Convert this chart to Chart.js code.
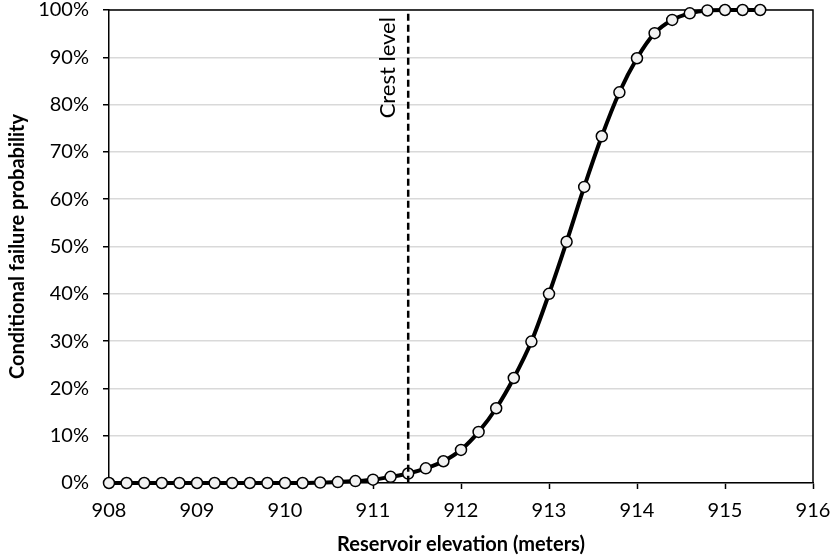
<!DOCTYPE html>
<html>
<head>
<meta charset="utf-8">
<script src="https://cdn.jsdelivr.net/npm/chart.js@4.4.1/dist/chart.umd.min.js"></script>
<style>
  html, body { margin: 0; padding: 0; background: #fff; }
  #wrap { width: 833px; height: 560px; }
</style>
</head>
<body>
<div id="wrap"><canvas id="c" width="833" height="560"></canvas></div>
<script>
// reservoir elevation (m) and conditional failure probability (%)
var elevations = [908.0, 908.2, 908.4, 908.6, 908.8, 909.0, 909.2, 909.4, 909.6, 909.8,
                  910.0, 910.2, 910.4, 910.6, 910.8, 911.0, 911.2, 911.4, 911.6, 911.8,
                  912.0, 912.2, 912.4, 912.6, 912.8, 913.0, 913.2, 913.4, 913.6, 913.8,
                  914.0, 914.2, 914.4, 914.6, 914.8, 915.0, 915.2, 915.4];
var probabilities = [0, 0, 0, 0, 0, 0, 0, 0, 0, 0,
                     0, 0, 0.1, 0.2, 0.4, 0.7, 1.3, 2.0, 3.1, 4.6,
                     7.0, 10.8, 15.8, 22.2, 29.9, 40.0, 51.0, 62.6, 73.3, 82.6,
                     89.8, 95.1, 97.9, 99.3, 99.9, 100, 100, 100];
var crestLevel = 911.4;
var crestLabel = 'Crest level';

var FONT = 'Lato, "Open Sans", sans-serif';

var points = elevations.map(function(x, i) { return { x: x, y: probabilities[i] }; });

// frame on top/right of plot area
var framePlugin = {
    id: 'frame',
    beforeDatasetsDraw: function(chart) {
        var a = chart.chartArea, ctx = chart.ctx;
        ctx.save();
        ctx.strokeStyle = '#000';
        ctx.lineWidth = 1.5;
        ctx.beginPath();
        ctx.moveTo(a.left, a.top);
        ctx.lineTo(a.right, a.top);
        ctx.lineTo(a.right, a.bottom);
        ctx.stroke();
        ctx.restore();
    }
};

// dashed crest line with rotated label
var crestPlugin = {
    id: 'crest',
    afterDatasetsDraw: function(chart) {
        var ctx = chart.ctx;
        var xs = chart.scales.x, ys = chart.scales.y;
        var px = xs.getPixelForValue(crestLevel);
        ctx.save();
        ctx.strokeStyle = '#000';
        ctx.lineWidth = 2.5;
        ctx.setLineDash([7, 4]);
        ctx.beginPath();
        ctx.moveTo(px, ys.getPixelForValue(99.2));
        ctx.lineTo(px, ys.getPixelForValue(0));
        ctx.stroke();
        ctx.setLineDash([]);
        ctx.translate(px - 20, ys.getPixelForValue(98.5));
        ctx.rotate(-Math.PI / 2);
        ctx.fillStyle = '#000';
        ctx.font = '22px ' + FONT;
        ctx.textAlign = 'right';
        ctx.textBaseline = 'middle';
        ctx.fillText(crestLabel, 0, 0);
        ctx.restore();
    }
};

new Chart(document.getElementById('c'), {
    type: 'line',
    data: {
        datasets: [{
            data: points,
            borderColor: '#000',
            borderWidth: 4,
            cubicInterpolationMode: 'monotone',
            pointRadius: 5.5,
            pointBackgroundColor: '#f2f2f2',
            pointBorderColor: '#000',
            pointBorderWidth: 1.5,
            clip: false
        }]
    },
    options: {
        responsive: false,
        animation: false,
        layout: { padding: { top: 10, right: 20, left: 0, bottom: 0 } },
        plugins: {
            legend: { display: false },
            tooltip: { enabled: false }
        },
        scales: {
            x: {
                type: 'linear',
                min: 908,
                max: 916,
                afterFit: function(s) {
                    s.height = 77;
                    s.paddingLeft = 0;
                    s.paddingRight = 0;
                },
                ticks: {
                    stepSize: 1,
                    color: '#000',
                    padding: 10,
                    font: { family: FONT, size: 20 }
                },
                grid: {
                    drawOnChartArea: false,
                    drawTicks: true,
                    tickLength: 6,
                    tickColor: '#000',
                    tickWidth: 1.5
                },
                border: { color: '#000', width: 1.5 },
                title: {
                    display: true,
                    text: 'Reservoir elevation (meters)',
                    color: '#000',
                    font: { family: FONT, size: 20, weight: 'bold' },
                    padding: { top: 0, bottom: 3 }
                }
            },
            y: {
                min: 0,
                max: 100,
                afterFit: function(s) {
                    s.width = 109;
                    s.paddingTop = 0;
                    s.paddingBottom = 0;
                },
                ticks: {
                    stepSize: 10,
                    color: '#000',
                    padding: 14,
                    font: { family: FONT, size: 20 },
                    callback: function(v) { return v + '%'; }
                },
                grid: {
                    color: '#d9d9d9',
                    lineWidth: 1.5,
                    tickLength: 6,
                    tickColor: '#000',
                    tickWidth: 1.5
                },
                border: { color: '#000', width: 1.5 },
                title: {
                    display: true,
                    text: 'Conditional failure probability',
                    color: '#000',
                    font: { family: FONT, size: 20, weight: 'bold' },
                    padding: { top: 6, bottom: 0 }
                }
            }
        }
    },
    plugins: [framePlugin, crestPlugin]
});
</script>
</body>
</html>
